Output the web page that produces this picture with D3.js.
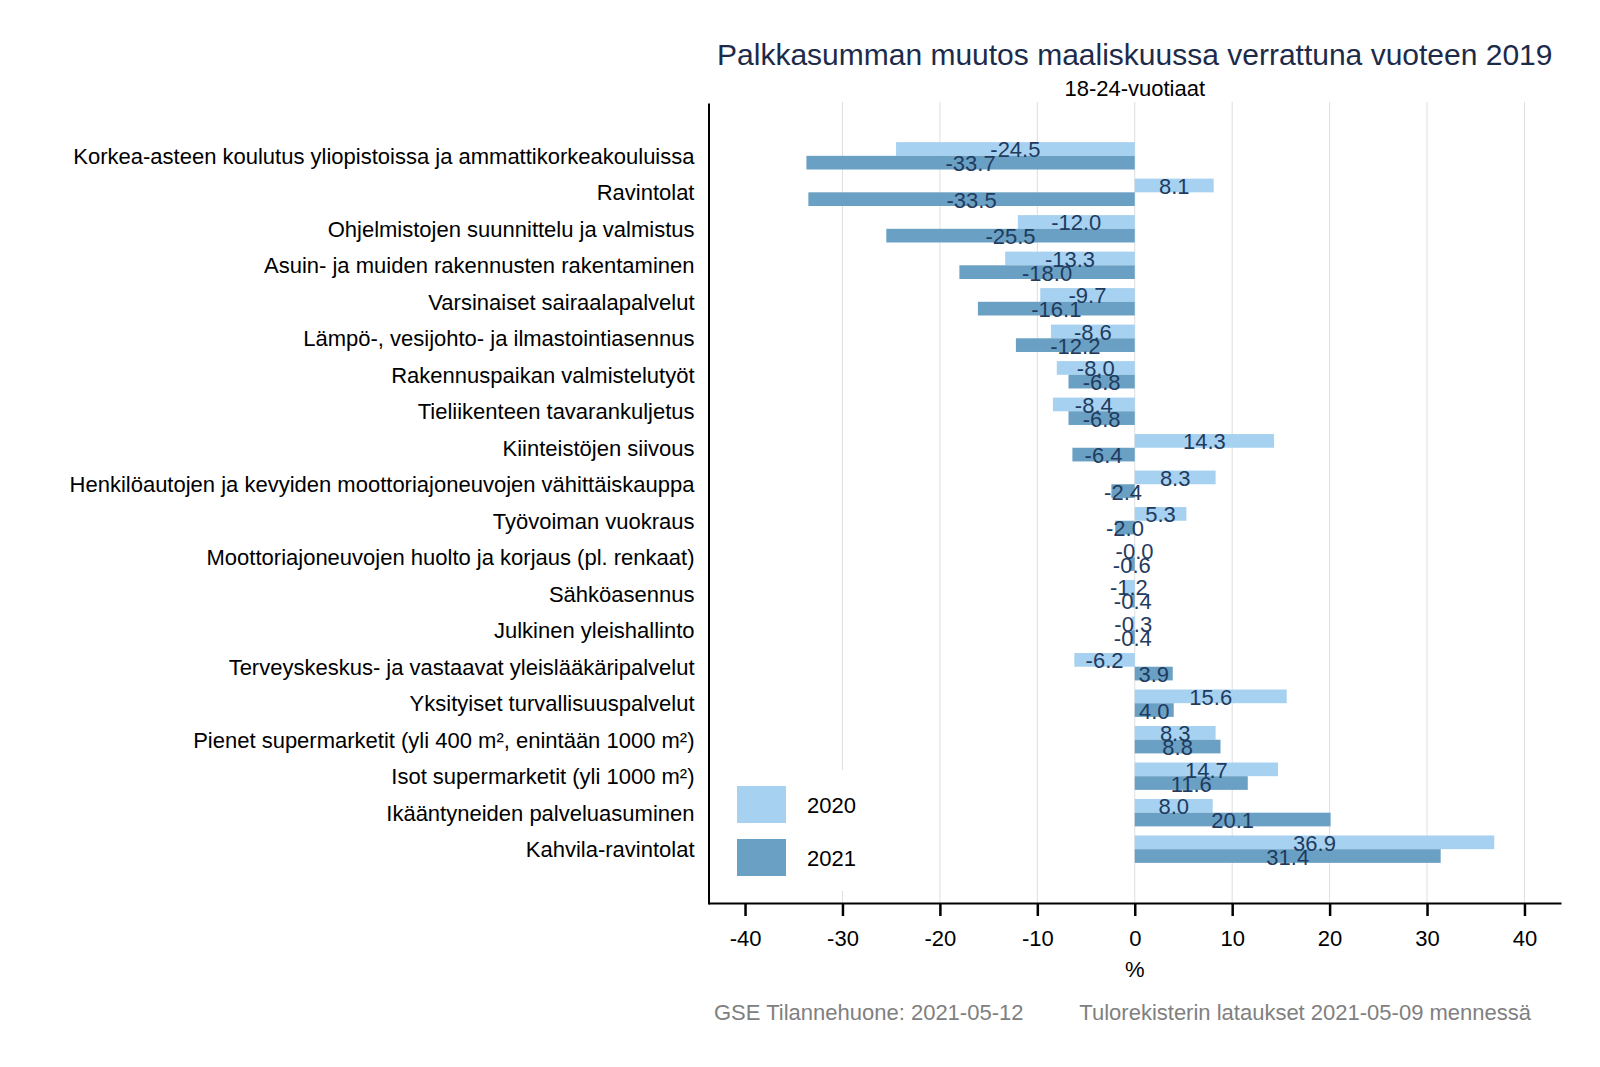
<!DOCTYPE html>
<html>
<head>
<meta charset="utf-8">
<script src="https://cdn.jsdelivr.net/npm/d3@7"></script>
<style>
  body { margin: 0; background: #fff; }
  text { font-family: "Liberation Sans", Arial, sans-serif; }
</style>
</head>
<body>
<div id="chart"></div>
<script>
// categories and values
const categories = [
  "Korkea-asteen koulutus yliopistoissa ja ammattikorkeakouluissa",
  "Ravintolat",
  "Ohjelmistojen suunnittelu ja valmistus",
  "Asuin- ja muiden rakennusten rakentaminen",
  "Varsinaiset sairaalapalvelut",
  "Lämpö-, vesijohto- ja ilmastointiasennus",
  "Rakennuspaikan valmistelutyöt",
  "Tieliikenteen tavarankuljetus",
  "Kiinteistöjen siivous",
  "Henkilöautojen ja kevyiden moottoriajoneuvojen vähittäiskauppa",
  "Työvoiman vuokraus",
  "Moottoriajoneuvojen huolto ja korjaus (pl. renkaat)",
  "Sähköasennus",
  "Julkinen yleishallinto",
  "Terveyskeskus- ja vastaavat yleislääkäripalvelut",
  "Yksityiset turvallisuuspalvelut",
  "Pienet supermarketit (yli 400 m², enintään 1000 m²)",
  "Isot supermarketit (yli 1000 m²)",
  "Ikääntyneiden palveluasuminen",
  "Kahvila-ravintolat"
];
const values2020 = [-24.5, 8.1, -12.0, -13.3, -9.7, -8.6, -8.0, -8.4, 14.3, 8.3,
                    5.3, -0.04, -1.2, -0.3, -6.2, 15.6, 8.3, 14.7, 8.0, 36.9];
const values2021 = [-33.7, -33.5, -25.5, -18.0, -16.1, -12.2, -6.8, -6.8, -6.4, -2.4,
                    -2.0, -0.6, -0.4, -0.4, 3.9, 4.0, 8.8, 11.6, 20.1, 31.4];
const years = ["2020", "2021"];
const xTicks = [-40, -30, -20, -10, 0, 10, 20, 30, 40];

const colors = {"2020": "#a6d1f0", "2021": "#6aa0c4"};

const W = 1600, H = 1067;
const plot = {left: 708.5, right: 1561, top: 102, bottom: 903};
const FS = 22;

const svg = d3.select('#chart').append('svg')
  .attr('width', W)
  .attr('height', H);

const data = categories.map((c, i) => ({
  cat: c,
  vals: [{year: "2020", v: values2020[i]}, {year: "2021", v: values2021[i]}]
}));

// scales
const xScale = d3.scaleLinear()
  .domain([-43.75, 43.75])
  .range([plot.left, plot.right]);

const yScale = d3.scaleBand()
  .domain(categories)
  .range([plot.top, plot.bottom])
  .paddingInner(0.25)
  .paddingOuter(1.1);

const ySub = d3.scaleBand()
  .domain(years)
  .range([0, yScale.bandwidth()]);

// grid lines (no line at -40 in the original)
svg.append('g')
  .selectAll('line')
  .data(xTicks.filter(t => t !== -40))
  .join('line')
  .attr('x1', d => xScale(d))
  .attr('x2', d => xScale(d))
  .attr('y1', plot.top)
  .attr('y2', plot.bottom)
  .attr('stroke', '#dedede')
  .attr('stroke-width', 1);

// bars
const rows = svg.append('g')
  .selectAll('g')
  .data(data)
  .join('g')
  .attr('transform', d => `translate(0, ${yScale(d.cat)})`);

rows.selectAll('rect')
  .data(d => d.vals)
  .join('rect')
  .attr('x', d => xScale(Math.min(0, d.v)))
  .attr('width', d => Math.abs(xScale(d.v) - xScale(0)))
  .attr('y', d => ySub(d.year))
  .attr('height', ySub.bandwidth())
  .attr('fill', d => colors[d.year]);

rows.selectAll('text')
  .data(d => d.vals)
  .join('text')
  .attr('x', d => xScale(d.v / 2))
  .attr('y', d => ySub(d.year) + ySub.bandwidth() / 2 + 1)
  .attr('text-anchor', 'middle')
  .attr('dominant-baseline', 'central')
  .attr('font-size', FS)
  .attr('fill', '#1f3b5e')
  .text(d => d.v.toFixed(1));

// legend with white background
const legend = svg.append('g');
legend.append('rect')
  .attr('x', 722).attr('y', 770)
  .attr('width', 150).attr('height', 121)
  .attr('fill', '#fff');
years.forEach((yr, i) => {
  legend.append('rect')
    .attr('x', 737).attr('y', 786 + i * 53)
    .attr('width', 49).attr('height', 37)
    .attr('fill', colors[yr]);
  legend.append('text')
    .attr('x', 807).attr('y', 805 + i * 53)
    .attr('dominant-baseline', 'central')
    .attr('font-size', FS)
    .attr('fill', '#000')
    .text(yr);
});

// axes
const xAxis = d3.axisBottom(xScale)
  .tickValues(xTicks)
  .tickSize(13)
  .tickSizeOuter(0)
  .tickPadding(14)
  .tickFormat(d => String(d));

const xAxisGroup = svg.append('g')
  .attr('class', 'axis x-axis')
  .attr('transform', `translate(0, ${plot.bottom})`)
  .call(xAxis);
xAxisGroup.selectAll('text').attr('font-size', FS).attr('fill', '#000')
  .style('font-family', '"Liberation Sans", Arial, sans-serif');
xAxisGroup.selectAll('line').attr('stroke-width', 2.5).attr('stroke', '#000');
xAxisGroup.select('.domain').attr('stroke-width', 2).attr('stroke', '#000');

const yAxis = d3.axisLeft(yScale)
  .tickSize(0)
  .tickSizeOuter(0)
  .tickPadding(14);

const yAxisGroup = svg.append('g')
  .attr('class', 'axis y-axis')
  .attr('transform', `translate(${plot.left}, 1)`)
  .call(yAxis);
yAxisGroup.selectAll('text').attr('font-size', FS).attr('fill', '#000')
  .style('font-family', '"Liberation Sans", Arial, sans-serif');
yAxisGroup.select('.domain').attr('stroke-width', 2).attr('stroke', '#000');

// titles and notes
const midX = (plot.left + plot.right) / 2;
svg.append('text')
  .attr('x', midX).attr('y', 54)
  .attr('text-anchor', 'middle')
  .attr('dominant-baseline', 'central')
  .attr('font-size', 30)
  .attr('fill', '#1c2b4a')
  .text('Palkkasumman muutos maaliskuussa verrattuna vuoteen 2019');

svg.append('text')
  .attr('x', midX).attr('y', 88)
  .attr('text-anchor', 'middle')
  .attr('dominant-baseline', 'central')
  .attr('font-size', FS)
  .attr('fill', '#000')
  .text('18-24-vuotiaat');

svg.append('text')
  .attr('x', xScale(0)).attr('y', 969)
  .attr('text-anchor', 'middle')
  .attr('dominant-baseline', 'central')
  .attr('font-size', FS)
  .attr('fill', '#000')
  .text('%');

svg.append('text')
  .attr('x', 714).attr('y', 1012)
  .attr('dominant-baseline', 'central')
  .attr('font-size', FS)
  .attr('fill', '#808080')
  .text('GSE Tilannehuone: 2021-05-12');

svg.append('text')
  .attr('x', 1531).attr('y', 1012)
  .attr('text-anchor', 'end')
  .attr('dominant-baseline', 'central')
  .attr('font-size', FS)
  .attr('fill', '#808080')
  .text('Tulorekisterin lataukset 2021-05-09 mennessä');
</script>
</body>
</html>
